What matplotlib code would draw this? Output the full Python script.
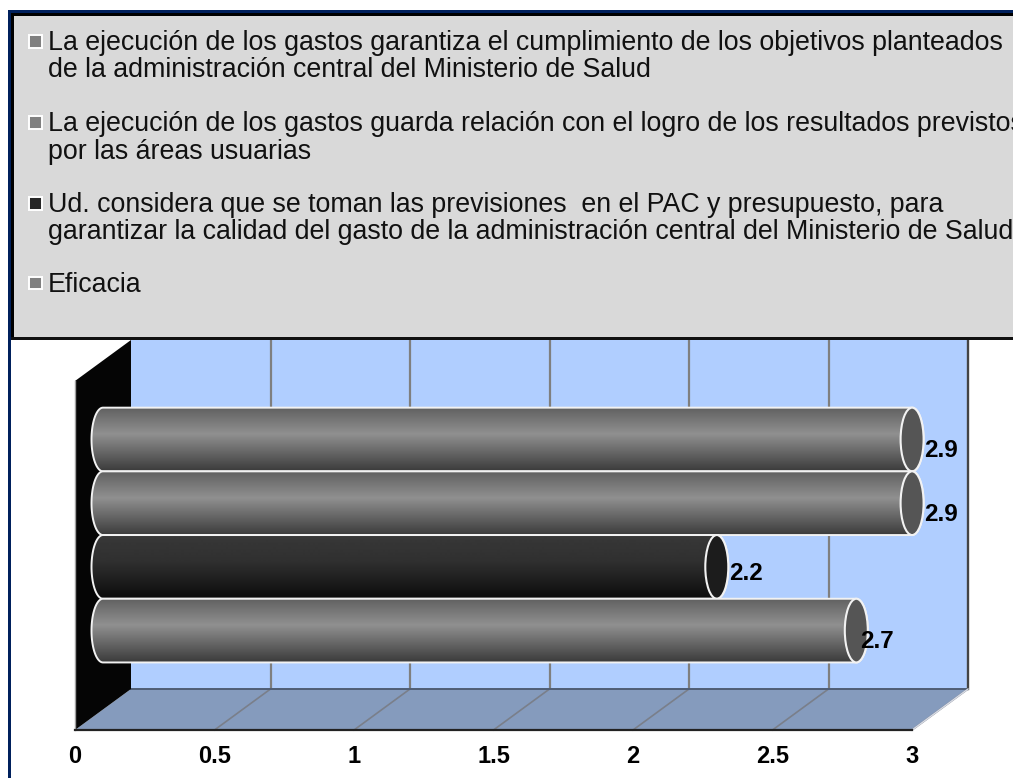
import numpy as np
import matplotlib
matplotlib.use("Agg")
import matplotlib.pyplot as plt
from matplotlib.patches import Rectangle, Polygon, PathPatch, Ellipse
from matplotlib.path import Path

W, H = 1013, 778
plt.rcParams['font.family'] = ['Liberation Sans', 'DejaVu Sans']

# ---- data ----
categories = [
    "La ejecución de los gastos garantiza el cumplimiento de los objetivos planteados\nde la administración central del Ministerio de Salud",
    "La ejecución de los gastos guarda relación con el logro de los resultados previstos\npor las áreas usuarias",
    "Ud. considera que se toman las previsiones  en el PAC y presupuesto, para\ngarantizar la calidad del gasto de la administración central del Ministerio de Salud",
    "Eficacia",
]
values = [2.9, 2.9, 2.2, 2.7]
value_labels = ["2.9", "2.9", "2.2", "2.7"]
xticks = [0, 0.5, 1, 1.5, 2, 2.5, 3]
xticklabels = ["0", "0.5", "1", "1.5", "2", "2.5", "3"]

# ---- styles ----
swatch_colors = ["#808080", "#808080", "#262626", "#808080"]
stops_gray = [0x60, 0x90, 0x3c]
stops_dark = [0x38, 0x30, 0x0c]
bar_stops = [stops_gray, stops_gray, stops_dark, stops_gray]
face_colors = ["#555555", "#555555", "#1c1c1c", "#555555"]
label_dx = [12, 12, 12, 4]
label_dy = [11, 11, 7, 11]

fig = plt.figure(figsize=(W / 100, H / 100), dpi=100, facecolor="white")

# front plane of the 3-D box, in pixels
L, R, B, T = 75, 912, 730, 381
ax = fig.add_axes([L / W, 1 - B / H, (R - L) / W, (B - T) / H])
px_x = (R - L) / 3
row = 63.7
first_center = 460.0
ylim = ((B - first_center) / row, (T - first_center) / row)
ax.set_xlim(0, 3)
ax.set_ylim(*ylim)
ax.patch.set_visible(False)
for s in ("top", "left", "right"):
    ax.spines[s].set_visible(False)
ax.spines["bottom"].set_color("#222222")
ax.spines["bottom"].set_linewidth(1.6)
ax.spines["bottom"].set_zorder(6)
ax.set_yticks([])
ax.set_xticks(xticks)
ax.set_xticklabels(xticklabels, fontsize=17, fontweight="bold", color="black")
ax.tick_params(axis="x", length=0, pad=11)

DX = 56 / px_x       # depth offset along the value axis
DY = 41 / row        # depth offset along the category axis
y0, y1 = ylim

# walls and floor
ax.add_patch(Rectangle((DX, y0 - DY), 3, y1 - y0, fc="#b0ceff", ec="none", zorder=1, clip_on=False))
ax.add_patch(Polygon([(0, y0), (DX, y0 - DY), (3 + DX, y0 - DY), (3, y0)],
                     fc="#859bbd", ec="none", zorder=1.5, clip_on=False))
ax.add_patch(Polygon([(0, y0), (DX, y0 - DY), (DX, y1 - DY), (0, y1)],
                     fc="#050505", ec="none", zorder=2, clip_on=False))
for v in xticks[1:]:
    ax.plot([v + DX, v + DX], [y0 - DY, y1 - DY], color="#7f7f7f", lw=1.6, zorder=1.2, clip_on=False)
    ax.plot([v, v + DX], [y0, y0 - DY], color="#7a7f8a", lw=1.2, zorder=1.6, clip_on=False)
ax.plot([DX, 3 + DX], [y0 - DY, y0 - DY], color="#4f5d75", lw=1.4, zorder=1.7, clip_on=False)
ax.plot([3 + DX, 3 + DX], [y0 - DY, y1 - DY], color="#444444", lw=1.6, zorder=1.7, clip_on=False)
ax.plot([3, 3 + DX], [y0, y0 - DY], color="#d8dce6", lw=1.0, zorder=1.7, clip_on=False)
ax.plot([0, 0], [y0, y1], color="#a0a0a0", lw=1.0, zorder=2.1, clip_on=False)

# cylinders
hw = 11.5 / px_x
hh = 0.5
t = np.linspace(-np.pi / 2, np.pi / 2, 60)
n = len(values)
for i, (cat, v) in enumerate(zip(categories, values)):
    z = 3 + i
    x_s, x_e = DX / 2, v + DX / 2
    yc = i - DY / 2 + 0.0
    xs = np.r_[x_e + hw * np.cos(t), x_s - hw * np.cos(t[::-1])]
    ys = np.r_[yc + hh * np.sin(t), yc + hh * np.sin(t[::-1])]
    # body: straight on the far end, bulged on the near end
    body = Path(np.c_[xs, ys].tolist() + [(xs[0], ys[0])], closed=True)
    s = bar_stops[i]
    g = np.interp(np.linspace(0, 1, 128), [0, 0.42, 1], s) / 255
    im = ax.imshow(g[:, None], cmap="gray", vmin=0, vmax=1, aspect="auto",
                   extent=(x_s - hw, x_e + hw, yc + hh, yc - hh), zorder=z, origin="upper")
    outline = PathPatch(body, fc="none", ec="#f2f2f2", lw=1.4, zorder=z + 0.2, clip_on=False)
    ax.add_patch(outline)
    im.set_clip_path(outline)
    ax.add_patch(Ellipse((x_e, yc), 2 * hw, 2 * hh, fc=face_colors[i], ec="#f2f2f2",
                         lw=1.5, zorder=z + 0.3, clip_on=False))
    ax.annotate(value_labels[i], (x_e, yc), xytext=(label_dx[i] * 0.72, -label_dy[i] * 0.72),
                textcoords="offset points", fontsize=17.5, fontweight="bold", color="black",
                ha="left", va="center", zorder=20, annotation_clip=False)
ax.set_xlim(0, 3)
ax.set_ylim(*ylim)


# ---- legend panel (pixel coordinates of the figure) ----
def fx(p):
    return p / W


def fy(p):
    return 1 - p / H


def frect(x0, y0_, x1, y1_, **kw):
    fig.add_artist(Rectangle((fx(x0), fy(y1_)), fx(x1) - fx(x0), fy(y0_) - fy(y1_),
                             transform=fig.transFigure, **kw))


frect(0, 0, W, 10.5, fc="white", ec="none", zorder=3)
frect(8, 10.5, W, 340, fc="#d9d9d9", ec="none", zorder=3)
frect(8, 10.5, W, 13, fc="#00205c", ec="none", zorder=3.1)
frect(8, 13, W, 15.5, fc="black", ec="none", zorder=3.1)
frect(8, 10.5, 11, H, fc="#00205c", ec="none", zorder=3.1)
frect(11, 13, 14, 340, fc="black", ec="none", zorder=3.1)
frect(11, 337, W, 340, fc="#111111", ec="none", zorder=3.1)

baselines = [[50, 77], [131, 159], [212, 239], [292]]
swatch_y = [41, 122, 203, 283]
for cat, color, bl, sy in zip(categories, swatch_colors, baselines, swatch_y):
    frect(28.5, sy - 6.5, 41.5, sy + 6.5, fc=color, ec="white", lw=1.4, zorder=3.5)
    for line, b in zip(cat.split("\n"), bl):
        fig.text(fx(48), fy(b), line, fontsize=19.25, color="#111111", ha="left", va="baseline", zorder=4)

fig.savefig("out.png", dpi=100, facecolor="white")
